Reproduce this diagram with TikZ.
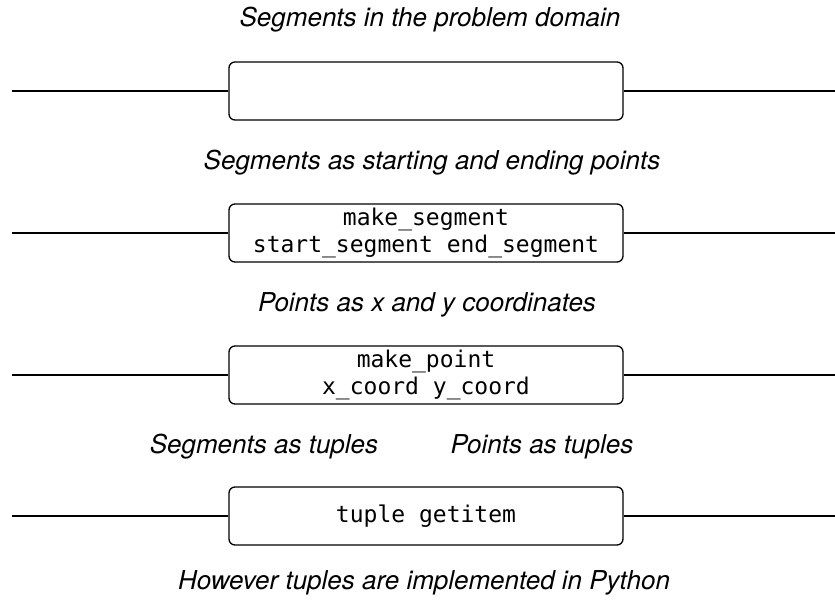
\documentclass[tikz,border=0pt]{standalone}
\usepackage{fontspec}
\setmainfont{TeX Gyre Heros}
\setmonofont{DejaVu Sans Mono}
\begin{document}
\begin{tikzpicture}[x=1pt, y=-1pt,
  layer/.style={draw, line width=1.3pt, rounded corners=6pt, minimum width=394pt,
    minimum height=58pt, inner sep=0pt, align=center,
    font=\fontsize{23}{27}\selectfont\ttfamily},
  caption/.style={font=\fontsize{26}{31}\selectfont\itshape},
  barrier/.style={line width=1.3pt}]
  % fix the page size
  \useasboundingbox (0,0) rectangle (835,600);

  % the abstraction layers
  \node[layer] (domain) at (426,91) {};
  \node[layer] (segment) at (426,233) {make\_segment\\start\_segment end\_segment};
  \node[layer] (point) at (426,375) {make\_point\\x\_coord y\_coord};
  \node[layer] (tuple) at (426,516) {tuple getitem};

  % the barrier lines
  \foreach \n in {domain,segment,point,tuple} {
    \coordinate (\n l) at (12,0 |- \n.west);
    \coordinate (\n r) at (835,0 |- \n.east);
    \draw[barrier] (\n l) -- (\n.west);
    \draw[barrier] (\n.east) -- (\n r);
  }

  % the captions
  \node[caption] (problem) at (430,20) {Segments in the problem domain};
  \node[caption] (points) at (432,163) {Segments as starting and ending points};
  \node[caption] (coords) at (427,305) {Points as x and y coordinates};
  \node[caption] (segtup) at (264,447) {Segments as tuples};
  \node[caption] (pttup) at (542,447) {Points as tuples};
  \node[caption] (python) at (424,583) {However tuples are implemented in Python};
\end{tikzpicture}
\end{document}
